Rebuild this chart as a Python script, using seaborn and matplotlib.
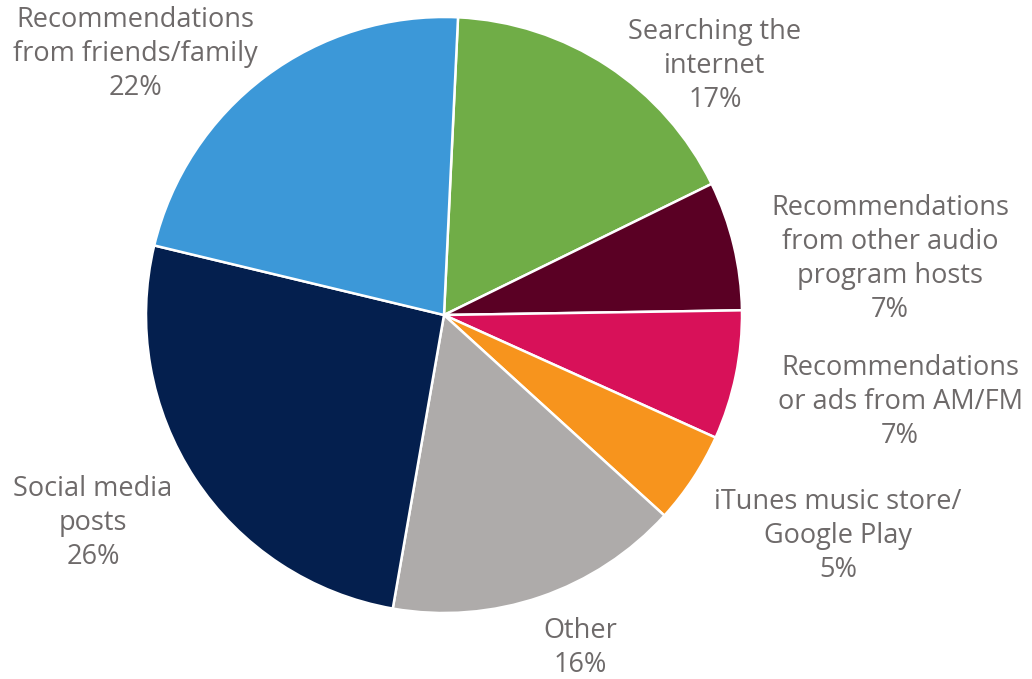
import matplotlib
matplotlib.use("Agg")
import matplotlib.pyplot as plt
import seaborn as sns

categories = ["Searching the\ninternet",
              "Recommendations\nfrom other audio\nprogram hosts",
              "Recommendations\nor ads from AM/FM",
              "iTunes music store/\nGoogle Play",
              "Other",
              "Social media\nposts",
              "Recommendations\nfrom friends/family"]
values = [17, 7, 7, 5, 16, 26, 22]
colors = ["#70AD47", "#5A0024", "#D81159", "#F7941D", "#AEABAA", "#041F4E", "#3C98D8"]

sns.set_theme(style="white")
plt.rcParams['font.family'] = ['Open Sans', 'DejaVu Sans']

W, H = 1032, 679
fig = plt.figure(figsize=(W / 100, H / 100), dpi=100)
ax = fig.add_axes([0, 0, 1, 1])

cx, cy, r = 444, H - 315, 298
ax.pie(values, colors=colors, startangle=87.3, counterclock=False,
       center=(cx, cy), radius=r, frame=True,
       wedgeprops=dict(edgecolor="white", linewidth=1.8))
ax.set_xlim(0, W)
ax.set_ylim(0, H)
ax.set_aspect('equal')
ax.axis('off')

# label positions (pixel coords of the text block center)
label_pos = [(715, 66), (890, 259), (900, 402), (838, 536), (580, 648), (93, 523), (135, 54)]
for cat, v, (x, y) in zip(categories, values, label_pos):
    ax.text(x, H - y, f"{cat}\n{v}%", ha="center", va="center",
            fontsize=19.5, color="#6E6A6A", linespacing=1.28)

fig.savefig("out.png", dpi=100)
